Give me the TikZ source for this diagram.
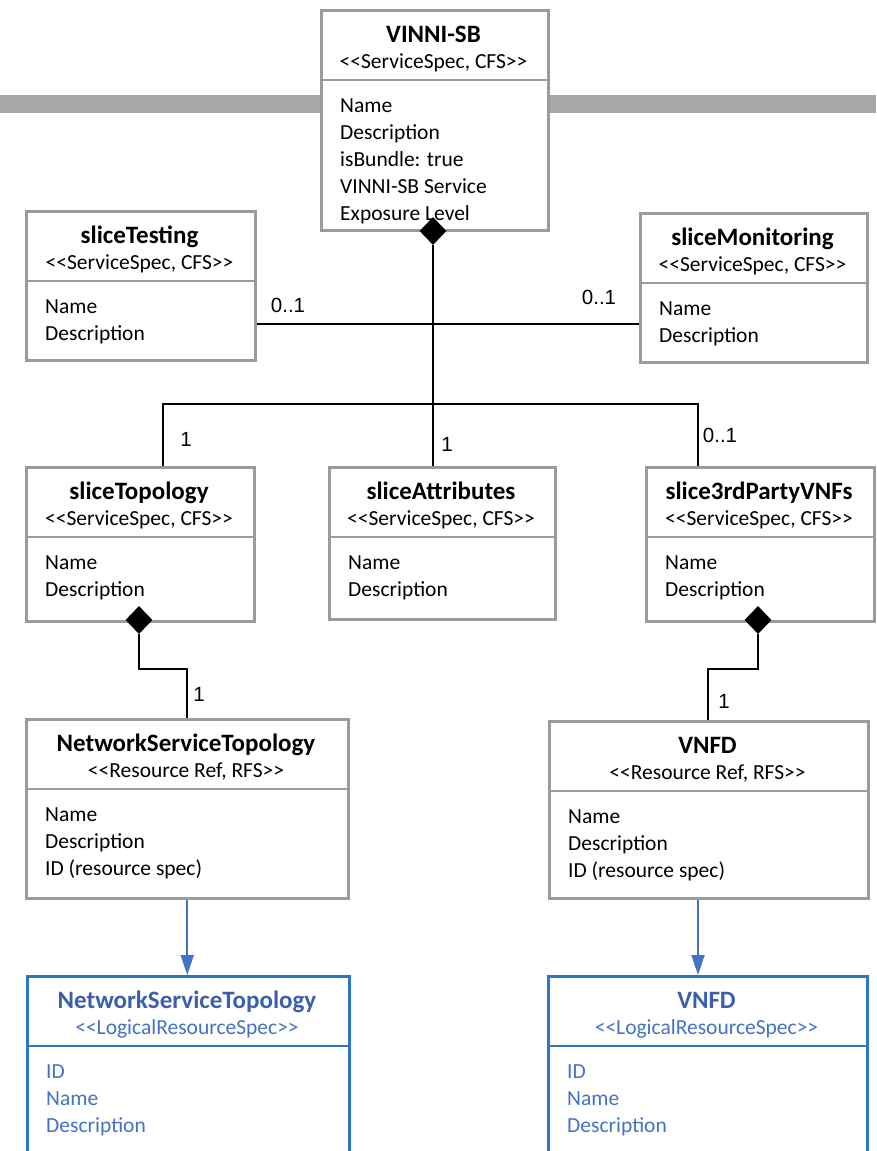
\documentclass[tikz,border=0pt]{standalone}
\usepackage{fontspec}
\setmainfont{Carlito}
\newfontfamily\lblfont{Liberation Sans}
\usetikzlibrary{shapes.geometric,arrows.meta}
\definecolor{bordg}{RGB}{155,155,155}
\definecolor{textg}{RGB}{0,0,0}
\definecolor{titleg}{RGB}{0,0,0}
\definecolor{bordb}{RGB}{46,117,196}
\definecolor{textb}{RGB}{68,114,196}
\definecolor{titleb}{RGB}{60,94,172}
\definecolor{band}{RGB}{168,166,166}
\definecolor{arrowblue}{RGB}{68,114,196}
\newcommand\sopen{<\kern0pt<}
\newcommand\sclose{>\kern0pt>}
\tikzset{
 boxshape/.style={rectangle, fill=white, line width=2.5pt, inner sep=0pt},
 divider/.style={line width=2.5pt},
 titletext/.style={font=\fontsize{25}{28}\selectfont\bfseries, inner sep=0pt, text height=16pt, text depth=0pt},
 stereotext/.style={font=\fontsize{21.5}{26}\selectfont, inner sep=0pt, text height=14pt, text depth=0pt},
 attrtext/.style={font=\fontsize{21.5}{26}\selectfont, anchor=west, inner sep=0pt, text height=14pt, text depth=0pt},
 conn/.style={line width=2.7pt, black},
 comp/.style={diamond, fill=black, inner sep=0pt, minimum width=27pt, minimum height=28pt},
 mult/.style={font=\lblfont\fontsize{20.5}{22}\selectfont, inner sep=0pt},
 realize/.style={line width=1.8pt, arrowblue, -{Triangle[length=20pt,width=13pt]}},
}
\newcommand\umlbox[9][g]{%
  \node[boxshape, draw=bord#1, minimum width={(#5-#3)*1pt}, minimum height={(#6-#4)*1pt}, anchor=north west] (#2) at (#3,#4) {};
  \draw[divider, bord#1] ({#3},{#4+71}) -- ({#5},{#4+71});
  \node[titletext, text=title#1] (#2-title) at ({(#3+#5)/2},{#4+25}) {#7};
  \node[stereotext, text=text#1] (#2-stereo) at ({(#3+#5)/2},{#4+52}) {#8};
  \foreach \a [count=\i] in {#9} {\node[attrtext, text=text#1] (#2-attr\i) at ({#3+20},{#4+96+27*(\i-1)}) {\a};}
}
\begin{document}
\begin{tikzpicture}[x=1pt,y=-1pt]
\useasboundingbox (0,0) rectangle (876,1151);
\clip (0,0) rectangle (876,1151);
\fill[white] (0,0) rectangle (876,1151);
\fill[band] (0,95) rectangle (876,113);

\umlbox{vinni}{320}{9}{547}{229}{VINNI-SB}{\sopen ServiceSpec, CFS\sclose}{Name,Description,isBundle: true,VINNI-SB Service,Exposure Level}
\umlbox{stest}{25}{210}{254}{359}{sliceTesting}{\sopen ServiceSpec, CFS\sclose}{Name,Description}
\umlbox{smon}{639}{212}{866}{361}{sliceMonitoring}{\sopen ServiceSpec, CFS\sclose}{Name,Description}
\umlbox{stopo}{25}{466}{253}{620}{sliceTopology}{\sopen ServiceSpec, CFS\sclose}{Name,Description}
\umlbox{sattr}{328}{466}{554}{618}{sliceAttributes}{\sopen ServiceSpec, CFS\sclose}{Name,Description}
\umlbox{s3rd}{645}{466}{873}{620}{slice3rdPartyVNFs}{\sopen ServiceSpec, CFS\sclose}{Name,Description}
\umlbox{nst}{25}{718}{347}{897}{NetworkServiceTopology}{\sopen Resource Ref, RFS\sclose}{Name,Description,ID (resource spec)}
\umlbox{vnfd}{548}{720}{867}{897}{VNFD}{\sopen Resource Ref, RFS\sclose}{Name,Description,ID (resource spec)}
\umlbox[b]{nstl}{26}{975}{348}{1170}{NetworkServiceTopology}{\sopen LogicalResourceSpec\sclose}{ID,Name,Description}
\umlbox[b]{vnfdl}{547}{975}{866}{1170}{VNFD}{\sopen LogicalResourceSpec\sclose}{ID,Name,Description}

% junction coordinates
\coordinate (j1) at (433,324);
\coordinate (j2) at (433,404);
\coordinate (k1) at (163,404);
\coordinate (k3) at (698,404);
\coordinate (b1) at (187,669);
\coordinate (b2) at (708,669);
\coordinate (a2) at (698,930);

\node[comp] (dvinni) at (433,231) {};
\node[comp] (dtopo) at (139,620) {};
\node[comp] (d3rd) at (758,620) {};

\draw[conn] (dvinni.south) -- (j2);
\draw[conn] (stest.east |- j1) -- (smon.west |- j1);
\draw[conn] (stopo.north -| k1) |- (k3) -- (k3 |- s3rd.north);
\draw[conn] (j2) -- (j2 |- sattr.north);
\draw[conn] (dtopo.south) |- (b1) -- (b1 |- nst.north);
\draw[conn] (d3rd.south) |- (b2) -- (b2 |- vnfd.north);

\draw[realize] (nst.south) -- (nst.south |- nstl.north);
\draw[realize] (a2 |- vnfd.south) -- (a2 |- vnfdl.north);

\node[mult] (m1) at (288,305) {0..1};
\node[mult] (m2) at (599,297) {0..1};
\node[mult] (m3) at (186,439) {1};
\node[mult] (m4) at (447,444) {1};
\node[mult] (m5) at (720,435) {0..1};
\node[mult] (m6) at (199,694) {1};
\node[mult] (m7) at (724,701) {1};
\end{tikzpicture}
\end{document}
